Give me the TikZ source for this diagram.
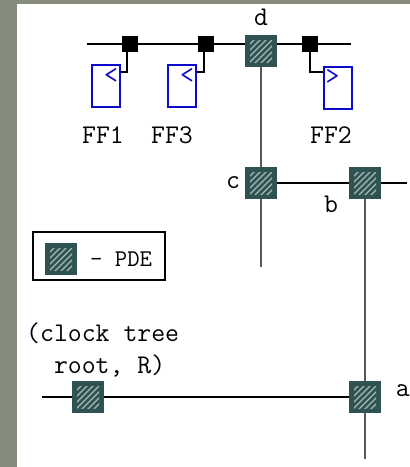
\documentclass[tikz,border=0pt]{standalone}
\usepackage{fontspec}
\usepackage{xcolor}
\usetikzlibrary{positioning, backgrounds}
\definecolor{panelgray}{HTML}{868C7C}
\definecolor{pdeteal}{HTML}{2F5252}
\definecolor{pdehatch}{HTML}{A8BAB6}
\definecolor{ffblue}{HTML}{0A0AC8}
\tikzstyle{lbl}   = [inner sep=0pt, font=\fontsize{27}{32}\selectfont\ttfamily, text=black]
\tikzstyle{tap}   = [rectangle, fill=black, minimum size=16pt, inner sep=0pt]
\tikzstyle{ffbox} = [rectangle, draw=ffblue, line width=2pt, fill=white, minimum width=28pt, minimum height=42pt, inner sep=0pt]
\tikzstyle{ckmark}= [inner sep=0pt, text=ffblue, font=\fontsize{27}{27}\selectfont\ttfamily]
\tikzstyle{wire}  = [line width=2pt, black]
\tikzstyle{trunk} = [line width=2pt, black!65]
\tikzstyle{pde}   = [rectangle, fill=pdeteal, minimum size=32pt, inner sep=0pt,
    path picture={
      \clip ([xshift=-11pt,yshift=-11pt]path picture bounding box.center) rectangle
            ([xshift=11pt,yshift=11pt]path picture bounding box.center);
      \foreach \off in {-24,-18,...,24}
        \draw[pdehatch, line width=1.4pt]
          ([xshift=\off pt-16pt,yshift=-16pt]path picture bounding box.center) --
          ([xshift=\off pt+16pt,yshift=16pt]path picture bounding box.center);
    }]

\begin{document}
\begin{tikzpicture}[x=1pt, y=-1pt]
  \useasboundingbox (0,0) rectangle (410,467);

  % flip-flops and taps
  \node[tap] (tap1) at (130,44) {};
  \node[tap] (tap3) at (206,44) {};
  \node[tap] (tap2) at (310,44) {};
  \node[ffbox] (ff1) at (105.5,85.5) {};
  \node[ffbox] (ff3) at (182,85.5) {};
  \node[ffbox] (ff2) at (337.5,88) {};
  \node[ckmark] (ck1) at (111,76.5) {<};
  \node[ckmark] (ck3) at (187,76.5) {<};
  \node[ckmark] (ck2) at (332.5,77.5) {>};
  \node[lbl] (ffname1) at (103,135) {FF1};
  \node[lbl] (ffname3) at (172,135) {FF3};
  \node[lbl] (ffname2) at (331,135) {FF2};

  % PDEs
  \node[pde] (d) at (261,51) {};
  \node[pde] (c) at (261,183) {};
  \node[pde] (b) at (365,183) {};
  \node[pde] (a) at (365,397) {};
  \node[pde] (root) at (88,397) {};
  \node[lbl] (dname) at (261,17) {d};
  \node[lbl] (cname) at (233,183) {c};
  \node[lbl] (bname) at (331,204) {b};
  \node[lbl, anchor=east] (aname) at (410,391) {a};
  \node[lbl, anchor=north west, align=left] (rootname) at (26,323) {(clock tree\\~~root, R)};

  % legend
  \node[pde] (keypde) at (61,259) {};
  \node[lbl, anchor=west, font=\fontsize{24}{32}\selectfont\ttfamily] (keytext) at (90,259) {- PDE};
  \node[draw=black, line width=2pt, minimum width=132pt, minimum height=48pt, inner sep=0pt] (key) at (98.7,255.5) {};

  % free ends
  \coordinate (topl) at (87,44);
  \coordinate (topr) at (351,44);
  \coordinate (cend) at (261,267);
  \coordinate (bend) at (407,183);
  \coordinate (rootl) at (42,397);
  \coordinate (aend) at (365,459);
  \coordinate (in1) at (120,72);
  \coordinate (in3) at (196,72);
  \coordinate (in2) at (323.5,72);

  \begin{scope}[on background layer]
    \fill[panelgray] (0,0) rectangle (410,467);
    \fill[white] (17,4) rectangle (410,467);
    \draw[wire] (topl) -- (topr);
    \draw[wire] ([xshift=-3pt]tap1.south) |- (in1);
    \draw[wire] ([xshift=-2pt]tap3.south) |- (in3);
    \draw[wire] (tap2.south) |- (in2);
    \draw[trunk] (d) -- (c);
    \draw[trunk] (c) -- (cend);
    \draw[wire] (c) -- (b);
    \draw[wire] (b) -- (bend);
    \draw[trunk] (b) -- (a);
    \draw[trunk] (a) -- (aend);
    \draw[wire] (rootl) -- (root);
    \draw[wire] (root) -- (a);
  \end{scope}
\end{tikzpicture}
\end{document}
